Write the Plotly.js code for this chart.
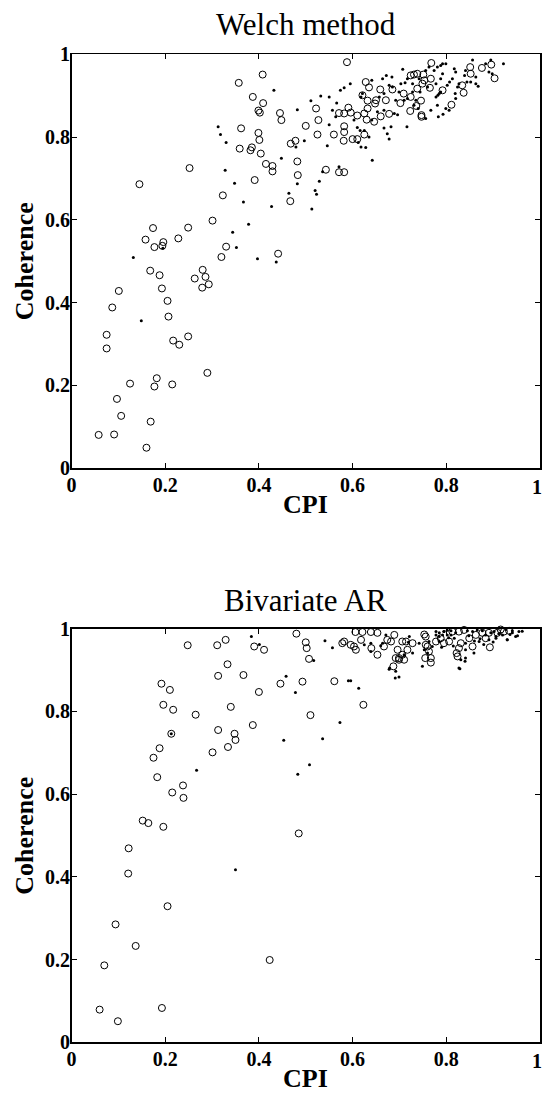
<!DOCTYPE html>
<html>
<head>
<meta charset="utf-8">
<script src="https://cdn.plot.ly/plotly-3.0.1.min.js"></script>
<style>html,body{margin:0;padding:0;background:#fff}#chart{width:543px;height:1093px}</style>
</head>
<body>
<div id="chart"></div>
<script>
// ---------- data ----------
var tickVals = [0, 0.2, 0.4, 0.6, 0.8, 1];
var tickText = ["0", "0.2", "0.4", "0.6", "0.8", "1"];
var titleTop = "Welch method";
var titleBottom = "Bivariate AR";
var xLabel = "CPI";
var yLabel = "Coherence";

// Welch method: open circles
var welchCircX = [0.145,0.252,0.357,0.408,0.387,0.409,0.399,0.402,0.445,0.448,0.362,0.399,0.401,0.359,0.385,0.382,0.404,0.415,0.429,0.429,0.391,0.323,0.468,0.478,0.482,0.483,0.467,0.301,0.174,0.249,0.158,0.228,0.196,0.194,0.177,0.330,0.320,0.441,0.168,0.188,0.280,0.263,0.286,0.279,0.293,0.193,0.101,0.087,0.205,0.207,0.075,0.075,0.217,0.230,0.249,0.290,0.182,0.177,0.125,0.215,0.097,0.106,0.169,0.058,0.091,0.160,
0.588,0.768,0.628,0.635,0.659,0.685,0.724,0.731,0.738,0.751,0.753,0.767,0.749,0.738,0.765,0.792,0.834,0.837,0.851,0.852,0.876,0.896,0.903,0.811,0.621,0.632,0.650,0.648,0.671,0.702,0.709,0.724,0.746,0.736,0.723,0.747,0.747,0.678,0.660,0.646,0.630,0.632,0.625,0.610,0.591,0.582,0.571,0.596,0.522,0.527,0.500,0.525,0.560,0.582,0.582,0.581,0.600,0.610,0.625,0.543,0.571,0.582];
var welchCircY = [0.686,0.725,0.931,0.951,0.897,0.882,0.864,0.859,0.858,0.841,0.821,0.810,0.793,0.772,0.775,0.768,0.760,0.735,0.730,0.717,0.696,0.659,0.784,0.791,0.741,0.708,0.645,0.598,0.580,0.581,0.552,0.555,0.546,0.537,0.534,0.535,0.510,0.518,0.477,0.466,0.479,0.458,0.462,0.436,0.444,0.434,0.428,0.388,0.404,0.366,0.322,0.289,0.308,0.298,0.318,0.230,0.217,0.197,0.204,0.202,0.167,0.126,0.112,0.080,0.081,0.049,
0.981,0.979,0.933,0.920,0.915,0.915,0.949,0.951,0.953,0.951,0.937,0.941,0.929,0.917,0.919,0.913,0.925,0.907,0.969,0.953,0.967,0.975,0.942,0.878,0.901,0.888,0.889,0.881,0.889,0.882,0.905,0.897,0.888,0.875,0.863,0.853,0.849,0.856,0.850,0.837,0.842,0.869,0.857,0.852,0.871,0.857,0.858,0.859,0.869,0.841,0.827,0.806,0.806,0.826,0.812,0.791,0.795,0.795,0.806,0.721,0.715,0.715];

// Welch method: small dots
var welchDotX = [0.432,0.482,0.313,0.318,0.330,0.448,0.479,0.328,0.348,0.482,0.464,0.367,0.427,0.378,0.344,0.352,0.195,0.132,0.397,0.437,0.149,
0.511,0.532,0.566,0.574,0.582,0.595,0.550,0.546,0.497,0.571,0.536,0.529,0.520,0.523,0.513,0.628,0.642,0.610,0.616,0.612,0.625,0.667,0.674,0.678,0.716,0.618,0.621,0.641,0.672,0.684,0.707,0.653,0.667,0.689,0.696,0.710,0.717,0.692,0.699,0.685,0.678,0.703,0.712,0.728,0.717,0.731,0.740,0.735,0.767,0.781,0.793,0.799,0.778,0.785,0.802,0.807,0.820,0.819,0.824,0.827,0.788,0.792,0.774,0.781,0.792,0.799,0.756,0.763,0.760,0.778,0.742,0.817,0.820,0.841,0.839,0.856,0.863,0.852,0.863,0.868,0.884,0.891,0.895,0.922,0.898,0.813,0.664,0.657,0.667,0.618,0.635,0.641,0.682,0.756,0.783,0.603,0.557,0.564,0.550,0.728,0.744,
0.844,0.782,0.788,0.788,0.806];
var welchDotY = [0.913,0.866,0.825,0.806,0.787,0.749,0.776,0.720,0.688,0.687,0.664,0.643,0.632,0.589,0.570,0.533,0.531,0.509,0.506,0.498,0.356,
0.888,0.899,0.882,0.913,0.919,0.929,0.830,0.779,0.791,0.728,0.716,0.693,0.671,0.662,0.626,0.775,0.744,0.823,0.816,0.787,0.816,0.822,0.808,0.795,0.825,0.897,0.905,0.937,0.949,0.945,0.964,0.861,0.865,0.857,0.854,0.889,0.893,0.889,0.909,0.921,0.925,0.929,0.931,0.929,0.941,0.877,0.869,0.889,0.865,0.877,0.855,0.869,0.897,0.905,0.925,0.933,0.893,0.905,0.921,0.929,0.941,0.953,0.961,0.969,0.977,0.977,0.961,0.969,0.921,0.929,0.941,0.965,0.957,0.961,0.949,0.986,0.945,0.933,0.929,0.923,0.977,0.957,0.986,0.977,0.953,0.941,0.941,0.897,0.905,0.776,0.800,0.841,0.825,0.845,0.849,0.841,0.865,0.849,0.897,0.909,0.909,
0.933,0.901,0.909,0.973,0.865];

// Bivariate AR: open circles
var arCircX = [0.248,0.311,0.329,0.333,0.313,0.367,0.390,0.411,0.480,0.500,0.502,0.507,0.446,0.493,0.561,0.400,0.192,0.210,0.196,0.217,0.265,0.340,0.510,0.387,0.313,0.348,0.350,0.334,0.301,0.213,0.188,0.175,0.183,0.238,0.215,0.239,0.152,0.164,0.196,0.122,0.121,0.205,0.094,0.137,0.070,0.423,0.060,0.193,0.099,0.485,0.623,
0.606,0.621,0.639,0.653,0.618,0.578,0.582,0.596,0.607,0.603,0.640,0.653,0.667,0.674,0.689,0.682,0.696,0.706,0.714,0.692,0.699,0.706,0.717,0.728,0.687,0.710,0.699,0.756,0.756,0.755,0.753,0.760,0.763,0.767,0.767,0.778,0.788,0.795,0.806,0.813,0.827,0.838,0.831,0.827,0.822,0.824,0.856,0.849,0.863,0.877,0.891,0.884,0.893,0.916,0.923,0.909,0.934];
var arCircY = [0.960,0.960,0.973,0.914,0.886,0.888,0.957,0.949,0.988,0.967,0.953,0.927,0.867,0.872,0.873,0.847,0.867,0.852,0.816,0.804,0.792,0.811,0.791,0.767,0.755,0.746,0.731,0.714,0.701,0.746,0.711,0.688,0.641,0.621,0.604,0.591,0.536,0.530,0.521,0.469,0.408,0.329,0.285,0.233,0.186,0.199,0.079,0.083,0.051,0.505,0.816,
0.992,0.992,0.992,0.990,0.973,0.965,0.969,0.961,0.949,0.957,0.953,0.937,0.957,0.973,0.985,0.969,0.949,0.969,0.969,0.929,0.929,0.937,0.949,0.965,0.909,0.925,0.925,0.981,0.961,0.929,0.986,0.957,0.945,0.929,0.918,0.969,0.977,0.965,0.969,0.993,0.993,0.997,0.965,0.953,0.941,0.933,0.957,0.977,0.985,0.990,0.990,0.977,0.955,0.998,0.993,0.990,0.995];

// Bivariate AR: small dots
var arDotX = [0.384,0.401,0.458,0.478,0.453,0.536,0.508,0.483,0.267,0.541,0.557,0.517,0.213,0.350,0.591,0.596,0.613,0.573,0.679,0.691,0.699,0.710,0.721,0.749,0.625,0.671,0.829,0.841,0.840,0.859,0.906,0.930,0.948,
0.785,0.795,0.802,0.810,0.820,0.845,0.856,0.866,0.877,0.895,0.902,0.927,0.941,0.955,0.962,
0.778,0.785,0.795,0.802,0.778,0.785,0.792,0.810,0.817,0.763,0.770,0.760,0.841,0.831,0.827,0.841,0.884,0.891,0.906,0.920,0.941,0.952,0.930,0.870,
0.639,0.719,0.692,0.678,0.753,0.742,0.728,0.660,0.664,0.639,0.805,0.848,0.872,0.912,0.936,0.880,0.860,0.815,0.790,0.900];
var arDotY = [0.981,0.962,0.885,0.846,0.730,0.734,0.671,0.648,0.658,0.971,0.954,0.923,0.746,0.417,0.874,0.874,0.856,0.773,0.905,0.881,0.883,0.937,0.981,0.909,0.961,0.985,0.903,0.929,0.921,0.941,0.977,0.973,0.981,
0.990,0.993,0.985,0.995,0.990,0.995,0.993,0.997,0.995,0.990,0.993,0.998,0.995,0.993,0.994,
0.993,0.981,0.993,0.996,0.985,0.969,0.985,0.985,0.977,0.969,0.957,0.941,0.949,0.925,0.905,0.965,0.985,0.973,0.981,0.985,0.990,0.983,0.973,0.969,
0.965,0.967,0.897,0.902,0.949,0.965,0.941,0.959,0.965,0.945,0.978,0.983,0.976,0.988,0.986,0.962,0.970,0.958,0.955,0.968];

// ---------- chart ----------
var serif = "Liberation Serif, Times New Roman, serif";
function circ(x, y, xa, ya) {
  return {x: x, y: y, xaxis: xa, yaxis: ya, type: "scatter", mode: "markers", cliponaxis: false,
    marker: {symbol: "circle-open", size: 7, color: "#000", line: {width: 1, color: "#000"}}, hoverinfo: "skip"};
}
function dots(x, y, xa, ya) {
  return {x: x, y: y, xaxis: xa, yaxis: ya, type: "scatter", mode: "markers", cliponaxis: false,
    marker: {symbol: "circle", size: 3, color: "#000", line: {width: 0}}, hoverinfo: "skip"};
}
function empty(xa, ya) {
  return {x: [], y: [], xaxis: xa, yaxis: ya, type: "scatter", mode: "markers", hoverinfo: "skip"};
}
var traces = [
  circ(welchCircX, welchCircY, "x", "y"),
  dots(welchDotX, welchDotY, "x", "y"),
  circ(arCircX, arCircY, "x2", "y2"),
  dots(arDotX, arDotY, "x2", "y2"),
  empty("x3", "y"),
  empty("x4", "y2")
];

var W = 543, H = 1093;
var tickFont = {family: serif, size: 20, color: "#000", weight: "bold"};
function axisBase(extra) {
  var a = {
    range: [0, 1], autorange: false, fixedrange: true,
    tickvals: tickVals, ticktext: tickText,
    ticks: "inside", ticklen: 5, tickwidth: 1, tickcolor: "#000",
    showline: true, linecolor: "#000", linewidth: 1.5, mirror: "ticks",
    showgrid: false, zeroline: false,
    tickfont: tickFont
  };
  for (var k in extra) a[k] = extra[k];
  return a;
}
// x axes: last label drawn by an overlay axis shifted slightly left so it stays inside the page
var xMainText = tickText.slice(0, tickText.length - 1).concat([""]);
function lastLabelAxis(over, anchor) {
  return {overlaying: over, anchor: anchor, range: [0, 1], autorange: false, fixedrange: true,
    tickvals: [tickVals[tickVals.length - 1]], ticktext: [tickText[tickText.length - 1]],
    ticks: "inside", ticklen: 5, tickwidth: 1, tickcolor: "rgba(0,0,0,0)",
    showline: false, showgrid: false, zeroline: false,
    ticklabelstandoff: 5, ticklabelshift: -3, tickfont: tickFont};
}
var xDom = [71.5 / W, 540 / W];
var topDom = [1 - 468 / H, 1 - 54.3 / H];
var botDom = [1 - 1042.3 / H, 1 - 628.7 / H];
var labFont = {family: serif, size: 26, color: "#000", weight: "bold"};
var titFont = {family: serif, size: 31, color: "#000"};
var cx = 305.8 / W;

function ann(text, x, y, font, angle) {
  return {text: text, xref: "paper", yref: "paper", x: x, y: y, xanchor: "center", yanchor: "middle",
    showarrow: false, font: font, textangle: angle || 0};
}

var layout = {
  width: W, height: H,
  margin: {l: 0, r: 0, t: 0, b: 0},
  paper_bgcolor: "#fff", plot_bgcolor: "#fff",
  showlegend: false,
  xaxis: axisBase({domain: xDom, anchor: "y", ticklabelstandoff: -2, ticktext: xMainText}),
  yaxis: axisBase({domain: topDom, anchor: "x", ticklabelstandoff: -4}),
  xaxis2: axisBase({domain: xDom, anchor: "y2", ticklabelstandoff: -2, ticktext: xMainText}),
  yaxis2: axisBase({domain: botDom, anchor: "x2", ticklabelstandoff: -4}),
  xaxis3: lastLabelAxis("x", "y"),
  xaxis4: lastLabelAxis("x2", "y2"),
  annotations: [
    ann(titleTop, cx, 1 - 24.5 / H, titFont),
    ann(titleBottom, cx, 1 - 600.2 / H, titFont),
    ann(xLabel, cx, 1 - 504 / H, labFont),
    ann(xLabel, cx, 1 - 1078 / H, labFont),
    ann(yLabel, 24.2 / W, 1 - 261 / H, labFont, -90),
    ann(yLabel, 24.2 / W, 1 - 835.5 / H, labFont, -90)
  ]
};

Plotly.newPlot("chart", traces, layout, {staticPlot: true, displayModeBar: false});
</script>
</body>
</html>
